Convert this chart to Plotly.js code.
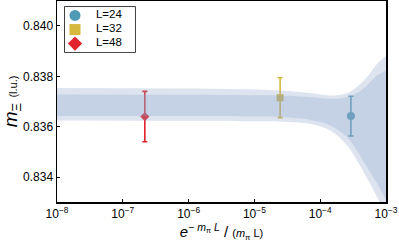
<!DOCTYPE html>
<html>
<head>
<meta charset="utf-8">
<script src="https://cdn.plot.ly/plotly-3.0.1.min.js"></script>
<style>html,body{margin:0;padding:0;background:#fff;}#chart{width:399px;height:247px;}</style>
</head>
<body>
<div id="chart"></div>
<script>
// data points
const labels = ["L=24", "L=32", "L=48"];
const xPts = [2.93e-4, 2.46e-5, 2.16e-7];
const yPts = [0.83642, 0.83715, 0.83640];
const yErr = [0.00079, 0.00079, 0.00100];
const colors = ["#4f9bb6", "#d6b83c", "#e2232b"];
const symbols = ["circle", "square", "diamond"];

// fit band
const bandX = [1e-8, 1e-6, 1e-5, 2.46e-5, 7.8e-5, 1.42e-4, 2.55e-4, 3.61e-4, 5.13e-4, 7.28e-4, 1e-3];
const darkUp = [0.83728, 0.83727, 0.83725, 0.83724, 0.83717, 0.83711, 0.83717, 0.83733, 0.83763, 0.83803, 0.83822];
const darkLo = [0.83642, 0.83642, 0.83640, 0.83638, 0.83625, 0.83605, 0.83559, 0.83506, 0.83440, 0.83376, 0.83309];
const lightUp = [0.83754, 0.83752, 0.83748, 0.83744, 0.83733, 0.83724, 0.83733, 0.83758, 0.83796, 0.83849, 0.83882];
const lightLo = [0.83625, 0.83624, 0.83622, 0.83621, 0.83609, 0.83585, 0.83526, 0.83467, 0.83396, 0.83322, 0.83250];

const xTicks = [1e-8, 1e-7, 1e-6, 1e-5, 1e-4, 1e-3];
const xTickText = ["10<sup>−8</sup>", "10<sup>−7</sup>", "10<sup>−6</sup>", "10<sup>−5</sup>", "10<sup>−4</sup>", "10<sup>−3</sup>"];
const yTicks = [0.834, 0.836, 0.838, 0.840];
const yTickText = ["0.834", "0.836", "0.838", "0.840"];

// legend rows (inside a small overlay axis)
const legendRow = [1, 2, 3];

const traces = [];
// points
for (let i = 0; i < labels.length; i++) {
  traces.push({
    type: "scatter", mode: "markers", x: [xPts[i]], y: [yPts[i]],
    marker: {color: colors[i], symbol: symbols[i], size: symbols[i] === "circle" ? 8 : 7, opacity: 1},
    error_y: {type: "data", array: [yErr[i]], color: colors[i], thickness: 1.6, width: 2.5}
  });
}
// bands (drawn over points, translucent)
const bandColor = "rgba(142,165,202,0.3)";
traces.push({type: "scatter", mode: "lines", x: bandX, y: lightLo, line: {width: 0, shape: "spline"}});
traces.push({type: "scatter", mode: "lines", x: bandX, y: lightUp, line: {width: 0, shape: "spline"}, fill: "tonexty", fillcolor: bandColor});
traces.push({type: "scatter", mode: "lines", x: bandX, y: darkLo, line: {width: 0, shape: "spline"}});
traces.push({type: "scatter", mode: "lines", x: bandX, y: darkUp, line: {width: 0, shape: "spline"}, fill: "tonexty", fillcolor: bandColor});
// legend: markers + labels on an overlay axis
traces.push({
  type: "scatter", mode: "markers", xaxis: "x2", yaxis: "y2",
  x: legendRow.map(() => 1), y: legendRow,
  marker: {color: colors, symbol: symbols, size: 11, opacity: 1, line: {width: 0}}
});
traces.push({
  type: "scatter", mode: "text", xaxis: "x2", yaxis: "y2",
  x: legendRow.map(() => 3.1), y: legendRow, text: labels,
  textposition: "middle right", textfont: {size: 11.5, color: "#000"}
});

const layout = {
  width: 399, height: 247,
  margin: {l: 57, r: 13, t: 1, b: 45},
  paper_bgcolor: "#fff", plot_bgcolor: "#fff",
  font: {family: "Liberation Sans, Arial, sans-serif", color: "#000", size: 12},
  showlegend: false,
  xaxis: {
    type: "log", range: [-8, -3],
    tickvals: xTicks, ticktext: xTickText,
    ticks: "inside", ticklen: 3, tickwidth: 1, tickcolor: "#000",
    showline: true, linecolor: "#000", linewidth: 1.5, mirror: true,
    showgrid: false, zeroline: false,
    tickfont: {size: 12},
    title: {text: "<i>e</i><sup>− <i>m</i><sub>π</sub> <i>L</i></sup> / <span style='font-size:11px'>(<i>m</i><sub>π</sub> L)</span>", font: {size: 15}, standoff: 5}
  },
  yaxis: {
    range: [0.83301, 0.84099],
    tickvals: yTicks, ticktext: yTickText,
    ticks: "inside", ticklen: 3, tickwidth: 1, tickcolor: "#000",
    showline: true, linecolor: "#000", linewidth: 1.5, mirror: true,
    showgrid: false, zeroline: false,
    tickfont: {size: 12},
    title: {text: "<i>m</i><sub>Ξ</sub> <span style='font-size:11px'>(l.u.)</span>", font: {size: 19}, standoff: 3}
  },
  xaxis2: {domain: [0.0243, 0.237], range: [0, 7], visible: false, fixedrange: true},
  yaxis2: {domain: [0.746, 0.970], range: [3.6, 0.4], visible: false, fixedrange: true},
  shapes: [{
    type: "rect", xref: "paper", yref: "paper",
    x0: 0.0243, x1: 0.237, y0: 0.746, y1: 0.970,
    line: {color: "#000", width: 1.5}, fillcolor: "#fff", layer: "below"
  }]
};

Plotly.newPlot("chart", traces, layout, {staticPlot: true, displayModeBar: false});
</script>
</body>
</html>
